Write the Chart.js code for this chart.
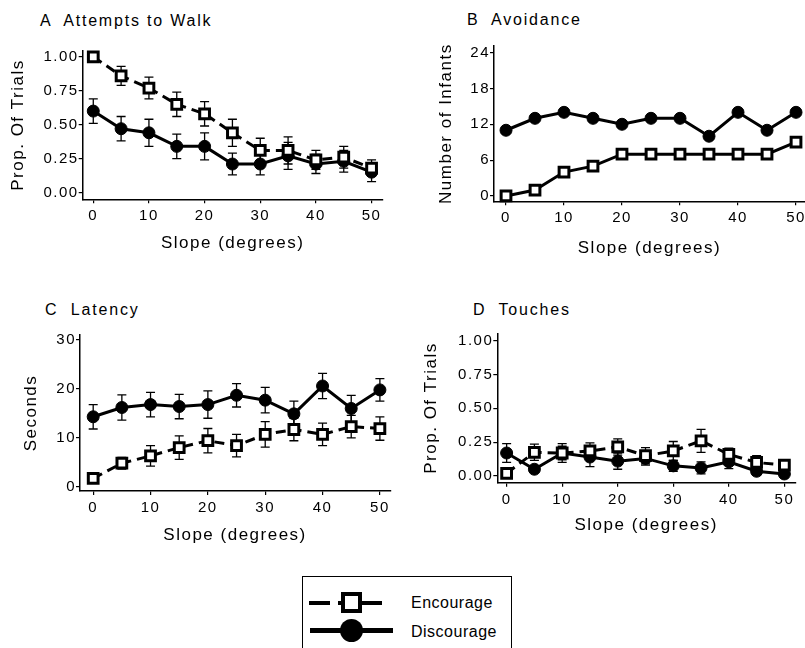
<!DOCTYPE html>
<html>
<head>
<meta charset="utf-8">
<script src="https://cdn.jsdelivr.net/npm/chart.js@4.4.1/dist/chart.umd.min.js"></script>
<style>
  html, body { margin: 0; padding: 0; background: #fff; }
  body { width: 805px; height: 648px; position: relative; overflow: hidden; font-family: "Liberation Sans", Arial, sans-serif; color: #000; }
  canvas { position: absolute; }
  .ptitle { position: absolute; font-size: 16px; line-height: 16px; letter-spacing: 1.8px; white-space: pre; }
  #legend { position: absolute; left: 302px; top: 576px; width: 210px; height: 90px; border: 1.3px solid #000; box-sizing: border-box; }
  .key { position: absolute; background: #000; }
  .ltext { position: absolute; font-size: 16px; line-height: 16px; letter-spacing: 0.5px; white-space: pre; }
</style>
</head>
<body>
<div class="ptitle" style="left:40px; top:13px;">A  Attempts to Walk</div>
<div class="ptitle" style="left:467px; top:12px;">B  Avoidance</div>
<div class="ptitle" style="left:45px; top:302px;">C  Latency</div>
<div class="ptitle" style="left:473px; top:302px;">D  Touches</div>

<canvas id="walk" width="400" height="235" style="left:0px; top:30px;"></canvas>
<canvas id="avoid" width="420" height="235" style="left:400px; top:30px;"></canvas>
<canvas id="latency" width="400" height="250" style="left:0px; top:310px;"></canvas>
<canvas id="touch" width="405" height="250" style="left:400px; top:310px;"></canvas>

<div id="legend">
  <div class="key" style="left:6px; top:24px; width:21px; height:3.5px;"></div>
  <div class="key" style="left:35px; top:24px; width:44px; height:3.5px;"></div>
  <div style="position:absolute; left:38px; top:15px; width:21px; height:21px; box-sizing:border-box; border:4px solid #000; background:#fff;"></div>
  <div class="key" style="left:7px; top:51px; width:83px; height:5px;"></div>
  <div style="position:absolute; left:37px; top:42px; width:23px; height:23px; border-radius:50%; background:#000;"></div>
  <div class="ltext" style="left:108px; top:18px;">Encourage</div>
  <div class="ltext" style="left:108px; top:47px;">Discourage</div>
</div>

<script>
// slope conditions (degrees)
const slopes = [0, 5, 10, 15, 20, 25, 30, 35, 40, 45, 50];
const xTicks = [0, 10, 20, 30, 40, 50];

// A - attempts to walk (proportion of trials, +/- SE)
const walkEncourage = [1.00, 0.86, 0.77, 0.65, 0.58, 0.44, 0.31, 0.31, 0.24, 0.26, 0.18];
const walkEncourageErr = [0, 0.07, 0.08, 0.09, 0.09, 0.10, 0.09, 0.10, 0.07, 0.08, 0.06];
const walkDiscourage = [0.60, 0.47, 0.44, 0.34, 0.34, 0.21, 0.21, 0.27, 0.21, 0.23, 0.15];
const walkDiscourageErr = [0.09, 0.09, 0.10, 0.09, 0.10, 0.08, 0.08, 0.10, 0.07, 0.08, 0.07];
const propTicks = [0, 0.25, 0.5, 0.75, 1];

// B - avoidance (number of infants)
const avoidEncourage = [0, 1, 4, 5, 7, 7, 7, 7, 7, 7, 9];
const avoidDiscourage = [11, 13, 14, 13, 12, 13, 13, 10, 14, 11, 14];
const avoidTicks = [0, 6, 12, 18, 24];

// C - latency (seconds, +/- SE)
const latencyEncourage = [1.7, 4.8, 6.3, 8.0, 9.4, 8.4, 10.7, 11.7, 10.7, 12.3, 11.9];
const latencyEncourageErr = [0.5, 1.2, 2.1, 2.4, 2.5, 2.3, 2.6, 2.3, 2.3, 2.3, 2.4];
const latencyDiscourage = [14.3, 16.2, 16.8, 16.4, 16.8, 18.7, 17.7, 14.9, 20.6, 16.0, 19.8];
const latencyDiscourageErr = [2.5, 2.6, 2.5, 2.5, 2.8, 2.4, 2.6, 2.6, 2.6, 2.7, 2.3];
const latencyTicks = [0, 10, 20, 30];

// D - touches (proportion of trials, +/- SE)
const touchEncourage = [0.02, 0.175, 0.17, 0.185, 0.215, 0.15, 0.185, 0.26, 0.16, 0.10, 0.08];
const touchEncourageErr = [0.02, 0.06, 0.05, 0.06, 0.06, 0.06, 0.07, 0.085, 0.045, 0.05, 0.03];
const touchDiscourage = [0.17, 0.05, 0.17, 0.14, 0.11, 0.13, 0.075, 0.06, 0.105, 0.035, 0.015];
const touchDiscourageErr = [0.07, 0.02, 0.07, 0.07, 0.06, 0.05, 0.04, 0.045, 0.05, 0.03, 0.02];

Chart.defaults.font.family = '"Liberation Sans", Arial, sans-serif';
Chart.defaults.color = '#000';
Chart.defaults.animation = false;

// wide ggplot-ish lettering
const spacing = {
    id: 'spacing',
    beforeUpdate(chart) { chart.ctx.letterSpacing = '1.5px'; },
    beforeDraw(chart) { chart.ctx.letterSpacing = '1.5px'; }
};

// vertical error bars with caps, drawn under the lines and points
const errorBars = {
    id: 'errorBars',
    beforeDatasetsDraw(chart) {
        const { ctx, scales: { x, y } } = chart;
        chart.data.datasets.forEach(ds => {
            if (!ds.errors) return;
            ctx.save();
            ctx.strokeStyle = '#000';
            ctx.lineWidth = 1.3;
            ds.data.forEach((pt, i) => {
                const e = ds.errors[i];
                if (!e) return;
                const px = x.getPixelForValue(pt.x);
                const top = y.getPixelForValue(pt.y + e);
                const bot = y.getPixelForValue(pt.y - e);
                ctx.beginPath();
                ctx.moveTo(px, top); ctx.lineTo(px, bot);
                ctx.moveTo(px - 4.5, top); ctx.lineTo(px + 4.5, top);
                ctx.moveTo(px - 4.5, bot); ctx.lineTo(px + 4.5, bot);
                ctx.stroke();
            });
            ctx.restore();
        });
    }
};

function series(values) {
    return slopes.map((s, i) => ({ x: s, y: values[i] }));
}

function makePanel(id, p) {
    new Chart(document.getElementById(id), {
        type: 'line',
        data: {
            datasets: [{
                label: 'Encourage',
                data: series(p.encourage),
                errors: p.encourageErr,
                borderColor: '#000',
                borderWidth: 3,
                borderDash: p.dashed ? [10, 6] : [],
                pointStyle: 'rect',
                pointRadius: 6.9,
                pointBackgroundColor: '#fff',
                pointBorderColor: '#000',
                pointBorderWidth: 3,
                clip: false
            }, {
                label: 'Discourage',
                data: series(p.discourage),
                errors: p.discourageErr,
                borderColor: '#000',
                borderWidth: 3,
                pointStyle: 'circle',
                pointRadius: 6,
                pointBackgroundColor: '#000',
                pointBorderColor: '#000',
                pointBorderWidth: 1,
                clip: false
            }]
        },
        options: {
            responsive: false,
            devicePixelRatio: 1,
            layout: { padding: p.padding },
            plugins: { legend: { display: false }, tooltip: { enabled: false } },
            scales: {
                x: {
                    type: 'linear',
                    min: p.xMin,
                    max: p.xMax,
                    afterFit: scale => { scale.height = p.xHeight; },
                    afterBuildTicks: scale => { scale.ticks = xTicks.map(v => ({ value: v })); },
                    grid: { display: true, drawOnChartArea: false, drawTicks: true, tickLength: 4, color: '#000', lineWidth: 1.2 },
                    border: { display: true, color: '#000', width: 1.5 },
                    ticks: { font: { size: 15 }, padding: 4, maxRotation: 0 },
                    title: { display: true, text: 'Slope (degrees)', font: { size: 17 }, padding: { top: 0, bottom: p.xTitlePad } }
                },
                y: {
                    type: 'linear',
                    min: p.yMin,
                    max: p.yMax,
                    afterFit: scale => { scale.width = p.yWidth; },
                    afterBuildTicks: scale => { scale.ticks = p.yTicks.map(v => ({ value: v })); },
                    grid: { display: true, drawOnChartArea: false, drawTicks: true, tickLength: 4, color: '#000', lineWidth: 1.2 },
                    border: { display: true, color: '#000', width: 1.5 },
                    ticks: { font: { size: 15 }, padding: 0, callback: v => p.fmt(v) },
                    title: { display: true, text: p.yTitle, font: { size: 17 }, padding: { top: p.yTitlePad, bottom: 0 } }
                }
            }
        },
        plugins: [spacing, errorBars]
    });
}

const prop = v => v.toFixed(2);
const whole = v => String(v);

makePanel('walk', {
    encourage: walkEncourage, encourageErr: walkEncourageErr,
    discourage: walkDiscourage, discourageErr: walkDiscourageErr,
    dashed: true, yTicks: propTicks, fmt: prop, yTitle: 'Prop. Of Trials',
    xMin: -1.9, xMax: 52, yMin: -0.05, yMax: 1.045,
    padding: { top: 20.7, right: 17.3, left: 0, bottom: 0 },
    yWidth: 82.7, xHeight: 65.7, yTitlePad: 8.1, xTitlePad: 11.5
});

makePanel('avoid', {
    encourage: avoidEncourage, encourageErr: null,
    discourage: avoidDiscourage, discourageErr: null,
    dashed: false, yTicks: avoidTicks, fmt: whole, yTitle: 'Number of Infants',
    xMin: -2.07, xMax: 51.55, yMin: -0.89, yMax: 25.1,
    padding: { top: 16, right: 15, left: 0, bottom: 0 },
    yWidth: 94, xHeight: 63.7, yTitlePad: 35.8, xTitlePad: 6.5
});

makePanel('latency', {
    encourage: latencyEncourage, encourageErr: latencyEncourageErr,
    discourage: latencyDiscourage, discourageErr: latencyDiscourageErr,
    dashed: true, yTicks: latencyTicks, fmt: whole, yTitle: 'Seconds',
    xMin: -2.3, xMax: 51.78, yMin: -0.88, yMax: 31.03,
    padding: { top: 25, right: 7, left: 0, bottom: 0 },
    yWidth: 80, xHeight: 69, yTitlePad: 21.5, xTitlePad: 14.1
});

makePanel('touch', {
    encourage: touchEncourage, encourageErr: touchEncourageErr,
    discourage: touchDiscourage, discourageErr: touchDiscourageErr,
    dashed: true, yTicks: propTicks, fmt: prop, yTitle: 'Prop. Of Trials',
    xMin: -1.68, xMax: 51.93, yMin: -0.0495, yMax: 1.0547,
    padding: { top: 23.3, right: 8.3, left: 0, bottom: 0 },
    yWidth: 97.3, xHeight: 77.3, yTitlePad: 21.5, xTitlePad: 24.1
});
</script>
</body>
</html>
